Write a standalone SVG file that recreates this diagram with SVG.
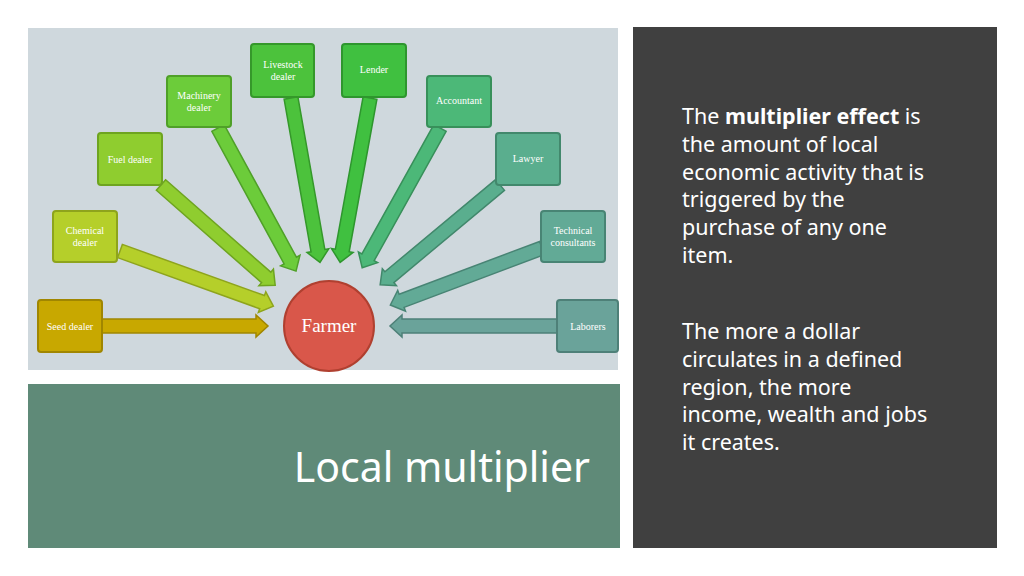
<svg xmlns="http://www.w3.org/2000/svg" width="1024" height="576" viewBox="0 0 1024 576">
<style>
.n rect{stroke-width:2;rx:3}
.n text{font-family:"Liberation Serif",serif;font-size:10px;fill:#fff;text-anchor:middle}
.r{font-family:"Noto Sans","Open Sans",sans-serif;font-size:21.5px;fill:#fff}
</style>
<rect width="1024" height="576" fill="#fff"/>
<rect x="28" y="28" width="590" height="342" fill="#cfd8dd"/>
<rect x="28" y="384" width="592" height="164" fill="#5f8a78"/>
<rect x="633" y="27" width="364" height="521" fill="#404040"/>
<g id="connectors" stroke-width="1.5">
<g transform="translate(102,326) rotate(0)"><path d="M0,-7H154V-11L166,0L154,11V7H0Z" fill="#c8a800" stroke="#a08600"/></g>
<g transform="translate(120,251) rotate(19.8)"><path d="M0,-7H151V-11L163,0L151,11V7H0Z" fill="#b5cf2a" stroke="#8ea41c"/></g>
<g transform="translate(161,185) rotate(41.3)"><path d="M0,-7H140V-11L152,0L140,11V7H0Z" fill="#8fcd2f" stroke="#6ea420"/></g>
<g transform="translate(218,128) rotate(61.4)"><path d="M0,-7H151V-11L163,0L151,11V7H0Z" fill="#6ccc3a" stroke="#4fa028"/></g>
<g transform="translate(291,98) rotate(80)"><path d="M0,-7H155V-11L167,0L155,11V7H0Z" fill="#4cc23c" stroke="#35982a"/></g>
<g transform="translate(370,98) rotate(100.3)"><path d="M0,-7H155V-11L167,0L155,11V7H0Z" fill="#40c040" stroke="#2e962e"/></g>
<g transform="translate(440,128) rotate(119.1)"><path d="M0,-7H148V-11L160,0L148,11V7H0Z" fill="#4cb878" stroke="#38905a"/></g>
<g transform="translate(500,185) rotate(140.2)"><path d="M0,-7H144V-11L156,0L144,11V7H0Z" fill="#5aae8e" stroke="#42886c"/></g>
<g transform="translate(542,248) rotate(159.4)"><path d="M0,-7H150V-11L162,0L150,11V7H0Z" fill="#62aa96" stroke="#488474"/></g>
<g transform="translate(557,326) rotate(180)"><path d="M0,-7H155V-11L167,0L155,11V7H0Z" fill="#6aa39a" stroke="#4e8078"/></g>
</g>
<g id="seed" class="n"><rect x="38" y="300" width="64" height="52" fill="#c8a800" stroke="#a08600"/><text x="70" y="330">Seed dealer</text></g>
<g id="chemical" class="n"><rect x="53" y="211" width="64" height="51" fill="#b5cf2a" stroke="#8ea41c"/><text x="85" y="234">Chemical</text><text x="85" y="246">dealer</text></g>
<g id="fuel" class="n"><rect x="98" y="133" width="64" height="52" fill="#8fcd2f" stroke="#6ea420"/><text x="130" y="163">Fuel dealer</text></g>
<g id="machinery" class="n"><rect x="167" y="76" width="64" height="51" fill="#6ccc3a" stroke="#4fa028"/><text x="199" y="99">Machinery</text><text x="199" y="111">dealer</text></g>
<g id="livestock" class="n"><rect x="251" y="44" width="63" height="53" fill="#4cc23c" stroke="#35982a"/><text x="283" y="68">Livestock</text><text x="283" y="80">dealer</text></g>
<g id="lender" class="n"><rect x="342" y="44" width="64" height="53" fill="#40c040" stroke="#2e962e"/><text x="374" y="73">Lender</text></g>
<g id="accountant" class="n"><rect x="427" y="76" width="64" height="51" fill="#4cb878" stroke="#38905a"/><text x="459" y="104">Accountant</text></g>
<g id="lawyer" class="n"><rect x="496" y="133" width="64" height="52" fill="#5aae8e" stroke="#42886c"/><text x="528" y="162">Lawyer</text></g>
<g id="technical" class="n"><rect x="541" y="211" width="64" height="51" fill="#62aa96" stroke="#488474"/><text x="573" y="234">Technical</text><text x="573" y="246">consultants</text></g>
<g id="laborers" class="n"><rect x="557" y="300" width="61" height="52" fill="#6aa39a" stroke="#4e8078"/><text x="588" y="330">Laborers</text></g>
<g id="farmer"><circle cx="329" cy="326" r="45" fill="#d9574a" stroke="#b04030" stroke-width="2"/><text x="329" y="332" font-family="Liberation Serif,serif" font-size="19" fill="#fff" text-anchor="middle">Farmer</text></g>
<g id="title"><text x="590" y="482" font-family="Noto Sans,Open Sans,sans-serif" font-size="41" fill="#fff" text-anchor="end">Local multiplier</text></g>
<g id="body" class="r">
<text x="682" y="124">The <tspan font-weight="bold">multiplier effect</tspan> is</text>
<text x="682" y="152">the amount of local</text>
<text x="682" y="180">economic activity that is</text>
<text x="682" y="207">triggered by the</text>
<text x="682" y="235">purchase of any one</text>
<text x="682" y="263">item.</text>
<text x="682" y="339">The more a dollar</text>
<text x="682" y="367">circulates in a defined</text>
<text x="682" y="395">region, the more</text>
<text x="682" y="422">income, wealth and jobs</text>
<text x="682" y="450">it creates.</text>
</g>
</svg>
